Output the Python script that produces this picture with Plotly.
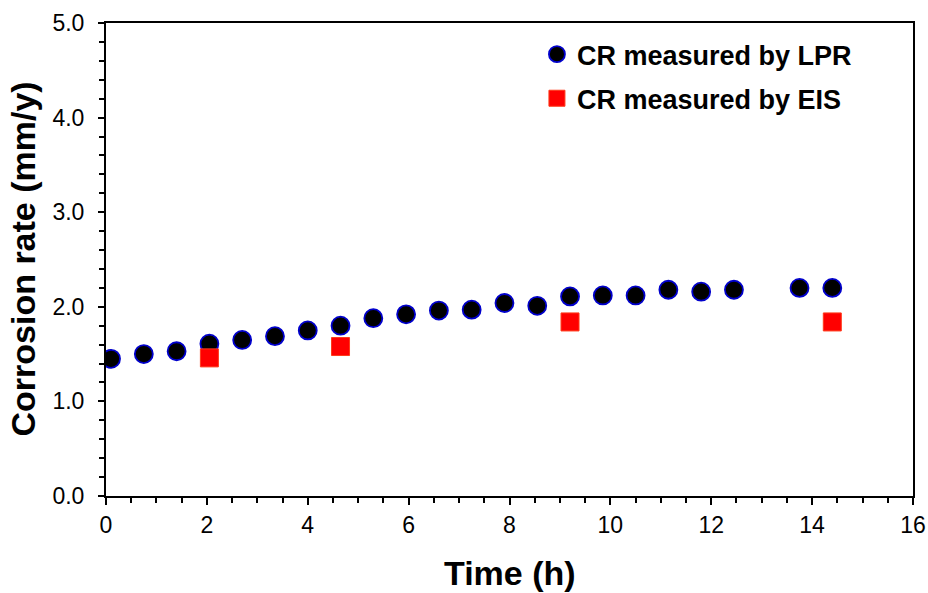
import plotly.graph_objects as go

# Corrosion rate measured by linear polarisation resistance (LPR)
lpr_time = [0.1, 0.75, 1.4, 2.05, 2.7, 3.35, 4.0, 4.65, 5.3, 5.95, 6.6,
            7.25, 7.9, 8.55, 9.2, 9.85, 10.5, 11.15, 11.8, 12.45, 13.75, 14.4]
lpr_rate = [1.45, 1.50, 1.53, 1.61, 1.65, 1.69, 1.75, 1.80, 1.88, 1.92, 1.96,
            1.97, 2.04, 2.01, 2.11, 2.12, 2.12, 2.18, 2.16, 2.18, 2.20, 2.20]

# Corrosion rate measured by electrochemical impedance spectroscopy (EIS)
eis_time = [2.05, 4.65, 9.2, 14.4]
eis_rate = [1.46, 1.58, 1.84, 1.84]

x_ticks = [0, 2, 4, 6, 8, 10, 12, 14, 16]
y_ticks = [0.0, 1.0, 2.0, 3.0, 4.0, 5.0]

FONT = "Liberation Sans, Arial, sans-serif"

fig = go.Figure()
fig.add_trace(go.Scatter(
    x=lpr_time, y=lpr_rate, mode="markers", name="CR measured by LPR",
    legendgroup="lpr",
    marker=dict(symbol="circle", size=18, color="black",
                line=dict(color="#0000cc", width=1.8)),
))
fig.add_trace(go.Scatter(
    x=eis_time, y=eis_rate, mode="markers", name="CR measured by EIS",
    legendgroup="eis",
    marker=dict(symbol="square", size=18, color="#ff0000",
                line=dict(color="#ff3a1a", width=1)),
))

axis_common = dict(
    showline=True, linecolor="black", linewidth=2, mirror=True,
    showgrid=False, zeroline=False, automargin=False,
    ticks="outside", tickcolor="black", tickwidth=2,
    tickfont=dict(family=FONT, size=23, color="black"),
)

fig.update_xaxes(
    range=[0, 16], tickvals=x_ticks, ticktext=[str(v) for v in x_ticks],
    ticklen=7,
    minor=dict(dtick=0.5, ticks="outside", ticklen=5, tickwidth=1.5,
               tickcolor="black", showgrid=False),
    **axis_common,
)
fig.update_yaxes(
    range=[0, 5], tickvals=y_ticks, ticktext=[f"{v:.1f}" for v in y_ticks],
    ticklen=6, ticklabelstandoff=9,
    minor=dict(dtick=0.2, ticks="outside", ticklen=5, tickwidth=1.5,
               tickcolor="black", showgrid=False),
    **axis_common,
)

fig.add_annotation(
    text="<b>Time (h)</b>", xref="paper", yref="paper", x=0.5, y=0,
    yshift=-77, showarrow=False, xanchor="center", yanchor="middle",
    font=dict(family=FONT, size=34, color="black"),
)
fig.add_annotation(
    text="<b>Corrosion rate (mm/y)</b>", xref="paper", yref="paper", x=0, y=0.5,
    xshift=-84, showarrow=False, textangle=-90, xanchor="center", yanchor="middle",
    font=dict(family=FONT, size=34, color="black"),
)

fig.update_layout(
    width=928, height=593,
    margin=dict(l=106, r=15, t=23, b=97),
    paper_bgcolor="white", plot_bgcolor="white",
    showlegend=True,
    legend=dict(
        x=0.534, y=0.985, xanchor="left", yanchor="top",
        bgcolor="rgba(0,0,0,0)", borderwidth=0,
        font=dict(family=FONT, size=27, color="black", weight="bold"),
        tracegroupgap=6, itemwidth=30,
    ),
)

fig.write_html("out.html")
